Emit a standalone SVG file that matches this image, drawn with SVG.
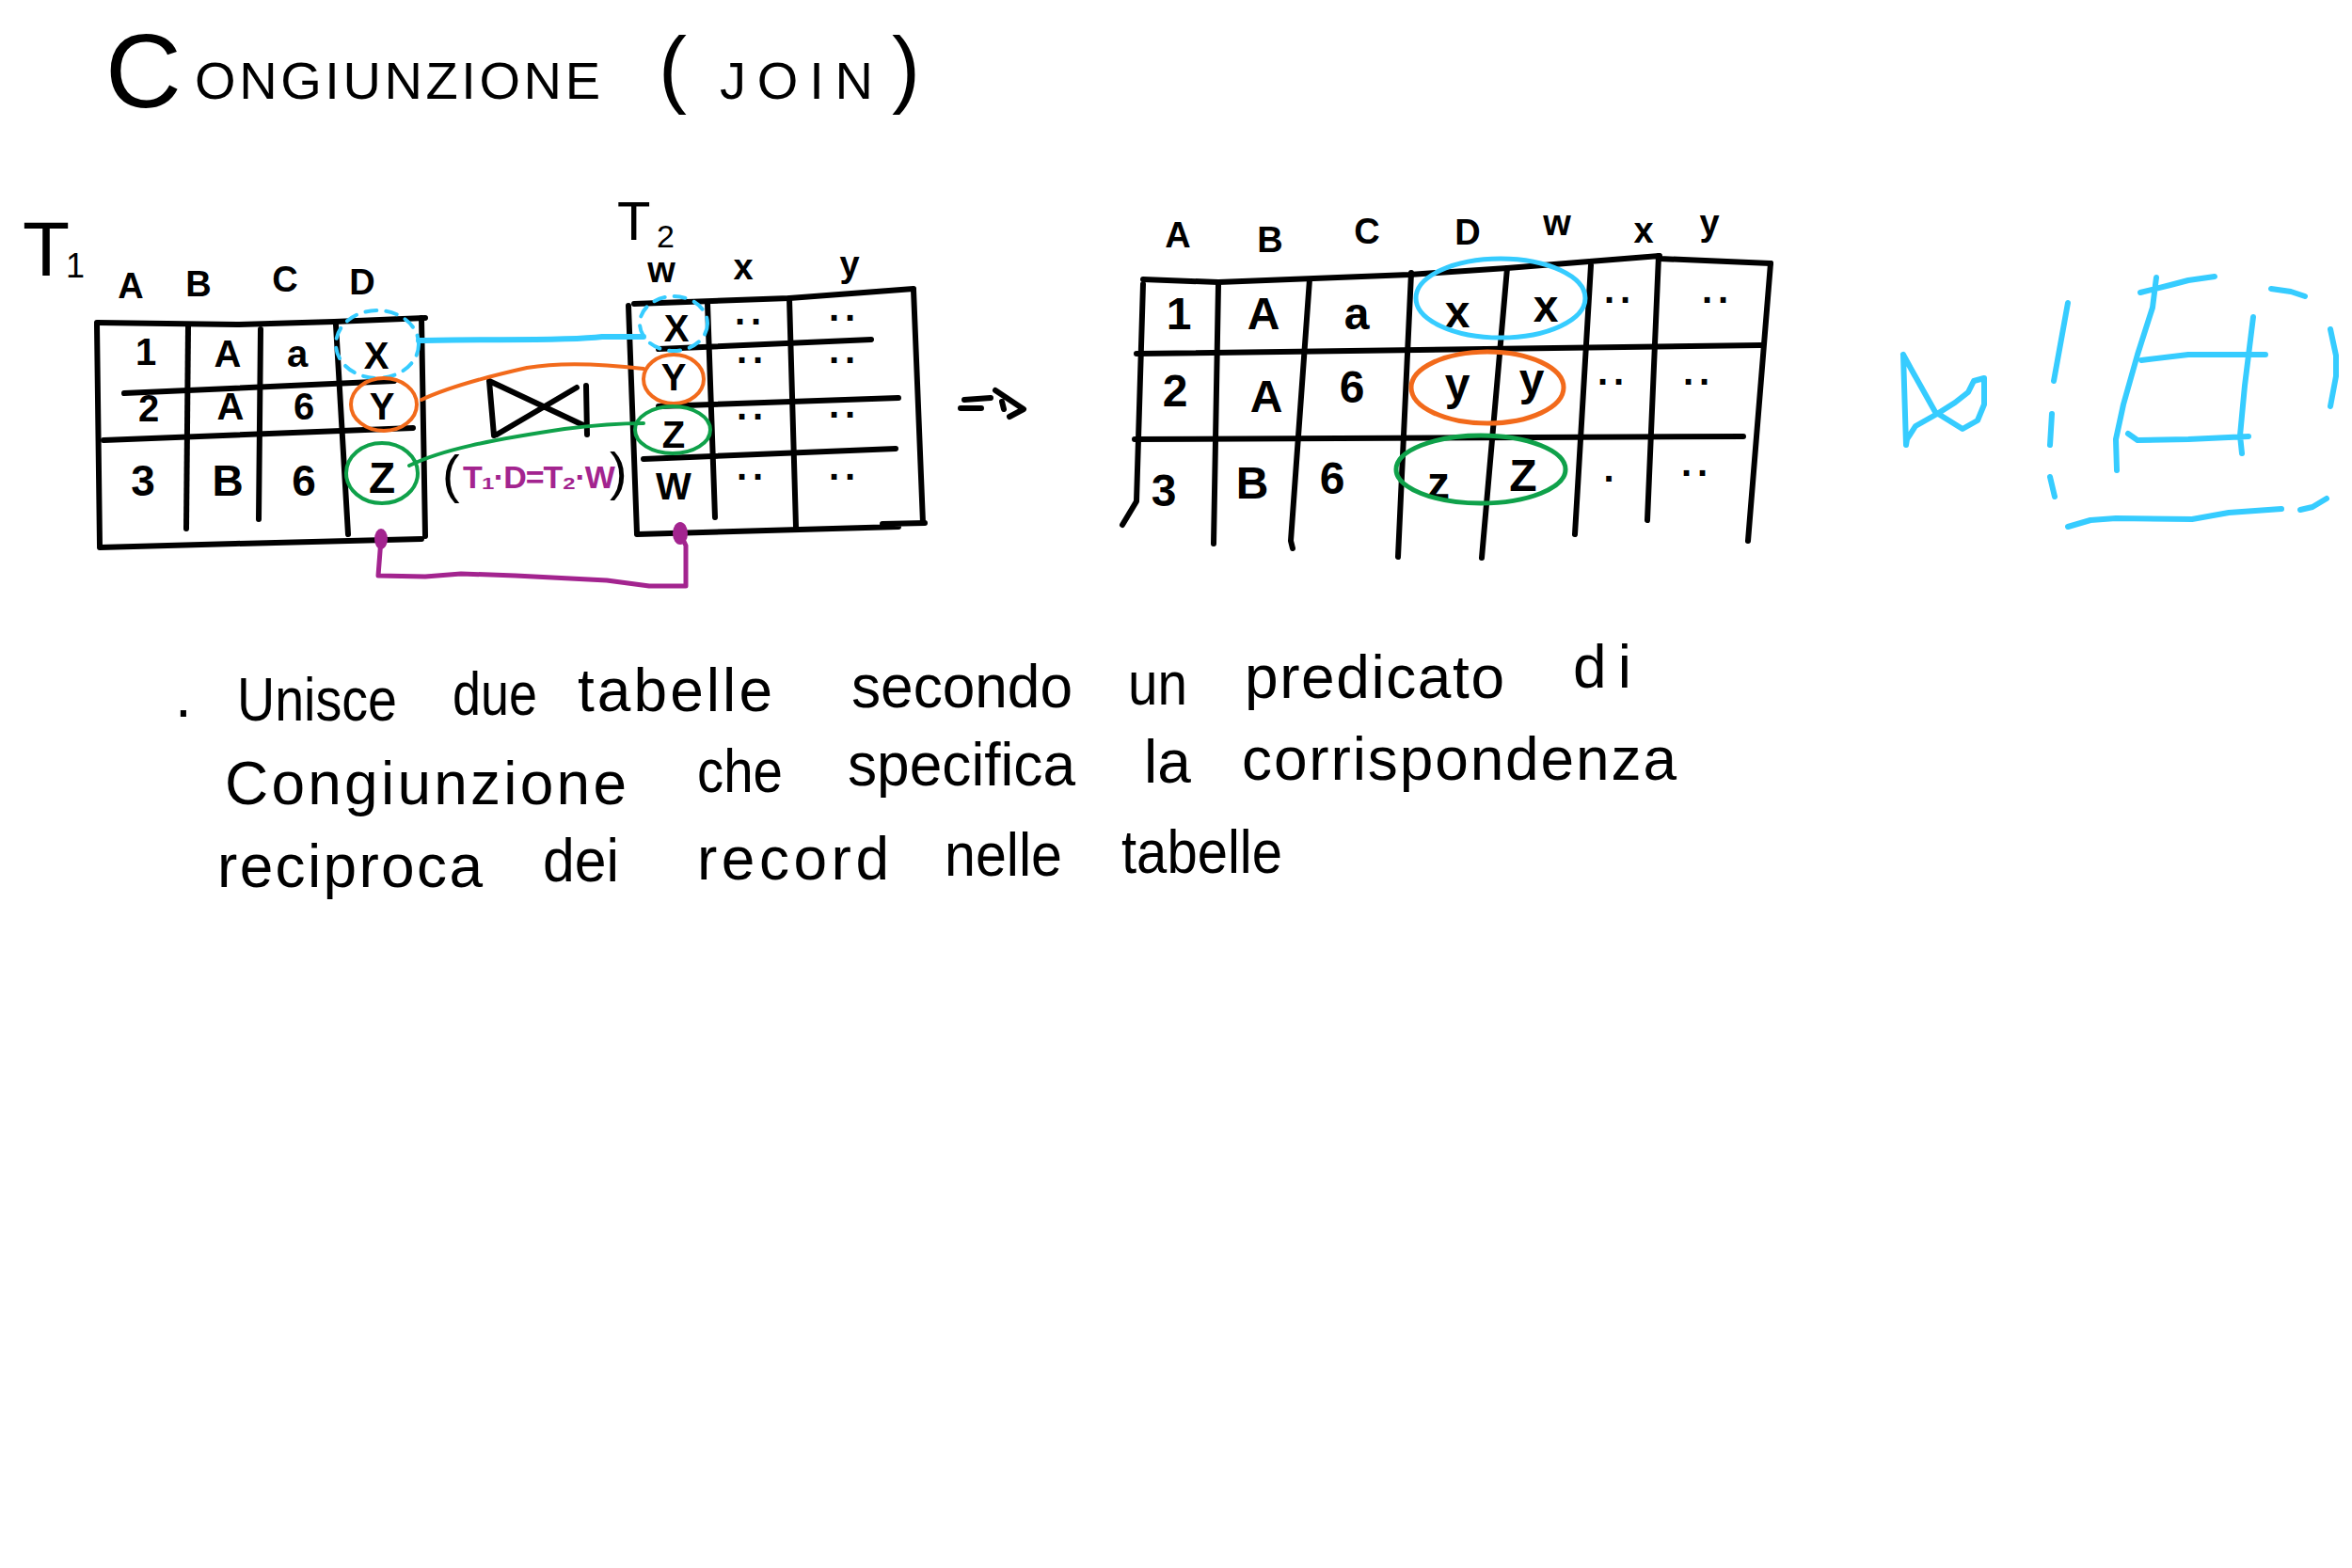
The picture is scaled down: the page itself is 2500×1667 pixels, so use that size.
<svg xmlns="http://www.w3.org/2000/svg" width="2500" height="1667" viewBox="0 0 2500 1667">
<style>
.ink{fill:none;stroke:#000;stroke-width:6;stroke-linecap:round;stroke-linejoin:round}
.cy{fill:none;stroke:#36ccff;stroke-width:6;stroke-linecap:round;stroke-linejoin:round}
.cyd{fill:none;stroke:#36ccff;stroke-width:4;stroke-dasharray:12 10;stroke-linecap:round}
.or{fill:none;stroke:#f26a1b;stroke-width:4;stroke-linecap:round;stroke-linejoin:round}
.gr{fill:none;stroke:#0fa14a;stroke-width:4;stroke-linecap:round;stroke-linejoin:round}
.pu{fill:none;stroke:#a3248f;stroke-width:5;stroke-linecap:round;stroke-linejoin:round}
text{font-family:"Liberation Sans",Arial,sans-serif;fill:#000}
.c{font-weight:bold;text-anchor:middle}
.t1{font-size:40px}
.t1b{font-size:46px}
.r{font-size:48px}
.h{font-size:38px;font-weight:bold;text-anchor:middle}
.b{font-size:64px}
.dots{font-size:40px;font-weight:bold;text-anchor:middle;letter-spacing:6px}
</style>
<rect width="2500" height="1667" fill="#fff"/>

<g id="title">
<text x="112" y="114" font-size="112">C</text>
<text x="207" y="105" font-size="56" textLength="431" lengthAdjust="spacing">ONGIUNZIONE</text>
<text x="700" y="103" font-size="90">(</text>
<text x="765" y="105" font-size="56" textLength="163" lengthAdjust="spacing">JOIN</text>
<text x="948" y="103" font-size="90">)</text>
</g>

<g id="T1">
<text x="24" y="293" font-size="82">T</text>
<text x="70" y="295" font-size="36">1</text>
<text class="h" x="139" y="317">A</text>
<text class="h" x="211" y="315">B</text>
<text class="h" x="303" y="310">C</text>
<text class="h" x="385" y="313">D</text>
<path class="ink" d="M103,343 L252,345 L355,342 L452,338"/>
<path class="ink" d="M103,345 L106,580"/>
<path class="ink" d="M200,347 L198,562"/>
<path class="ink" d="M277,350 L275,552"/>
<path class="ink" d="M357,345 L370,568"/>
<path class="ink" d="M448,338 L452,570"/>
<path class="ink" d="M132,418 L419,405"/>
<path class="ink" d="M110,468 L439,455"/>
<path class="ink" d="M106,582 L250,578 L448,573"/>
<text class="c t1" x="155" y="388">1</text>
<text class="c t1" x="242" y="390">A</text>
<text class="c t1" x="316" y="390">a</text>
<text class="c t1" x="400" y="392">X</text>
<text class="c t1" x="158" y="448">2</text>
<text class="c t1" x="245" y="446">A</text>
<text class="c t1" x="323" y="446">6</text>
<text class="c t1" x="406" y="446">Y</text>
<text class="c t1b" x="152" y="527">3</text>
<text class="c t1b" x="242" y="527">B</text>
<text class="c t1b" x="323" y="527">6</text>
<text class="c t1b" x="406" y="524">Z</text>
</g>

<g id="T2">
<text x="656" y="255" font-size="58">T</text>
<text x="698" y="263" font-size="34">2</text>
<text class="h" x="703" y="300">w</text>
<text class="h" x="790" y="297">x</text>
<text class="h" x="903" y="294">y</text>
<path class="ink" d="M674,323 L839,317 L971,307"/>
<path class="ink" d="M668,325 L677,567"/>
<path class="ink" d="M752,322 L760,550"/>
<path class="ink" d="M839,317 L846,560"/>
<path class="ink" d="M971,308 L981,556"/>
<path class="ink" d="M700,371 L926,361"/>
<path class="ink" d="M700,432 L955,423"/>
<path class="ink" d="M684,488 L952,477"/>
<path class="ink" d="M677,568 L955,560 M938,557 L983,556"/>
<text class="c t1" x="719" y="363">X</text>
<text class="c t1" x="716" y="415">Y</text>
<text class="c t1" x="716" y="476">Z</text>
<text class="c t1" x="716" y="531">W</text>
<text class="dots" x="798" y="345">..</text>
<text class="dots" x="898" y="341">..</text>
<text class="dots" x="800" y="386">..</text>
<text class="dots" x="898" y="386">..</text>
<text class="dots" x="800" y="446">..</text>
<text class="dots" x="898" y="444">..</text>
<text class="dots" x="800" y="510">..</text>
<text class="dots" x="898" y="510">..</text>
</g>

<g id="join-symbol">
<path class="ink" d="M520,405 L525,463 M623,410 L624,462 M520,405 L620,452 M613,412 L528,462"/>
</g>

<g id="predicate">
<text x="470" y="523" font-size="56">(</text>
<text x="492" y="519" font-size="34" font-weight="bold" letter-spacing="-1" style="fill:#a3248f">T₁·D=T₂·W</text>
<text x="648" y="520" font-size="56">)</text>
</g>

<g id="arrow">
<path class="ink" d="M1025,425 L1053,423 M1021,434 L1043,434 M1058,415 L1088,435 L1073,443 M1065,427 L1067,435"/>
</g>

<g id="result">
<text class="h" x="1252" y="263">A</text>
<text class="h" x="1350" y="268">B</text>
<text class="h" x="1453" y="259">C</text>
<text class="h" x="1560" y="260">D</text>
<text class="h" x="1655" y="250">w</text>
<text class="h" x="1747" y="258">x</text>
<text class="h" x="1817" y="250">y</text>
<path class="ink" d="M1215,297 L1295,300 L1498,292 L1602,285 L1764,272 M1764,275 L1882,280"/>
<path class="ink" d="M1215,302 L1208,533 L1193,558"/>
<path class="ink" d="M1295,303 L1290,578"/>
<path class="ink" d="M1392,297 L1372,575 L1374,583"/>
<path class="ink" d="M1500,290 L1486,592"/>
<path class="ink" d="M1602,285 L1575,593"/>
<path class="ink" d="M1691,282 L1674,568"/>
<path class="ink" d="M1763,272 L1751,553"/>
<path class="ink" d="M1882,280 L1858,575"/>
<path class="ink" d="M1208,376 L1872,367"/>
<path class="ink" d="M1206,467 L1853,464"/>
<text class="c r" x="1253" y="350">1</text>
<text class="c r" x="1343" y="350">A</text>
<text class="c r" x="1442" y="350">a</text>
<text class="c r" x="1549" y="348">x</text>
<text class="c r" x="1643" y="342">x</text>
<text class="dots" x="1722" y="322">..</text>
<text class="dots" x="1826" y="322">..</text>
<text class="c r" x="1249" y="432">2</text>
<text class="c r" x="1346" y="438">A</text>
<text class="c r" x="1437" y="428">6</text>
<text class="c r" x="1549" y="425">y</text>
<text class="c r" x="1628" y="420">y</text>
<text class="dots" x="1715" y="409">..</text>
<text class="dots" x="1806" y="409">..</text>
<text class="c r" x="1237" y="538">3</text>
<text class="c r" x="1331" y="530">B</text>
<text class="c r" x="1416" y="525">6</text>
<text class="c r" x="1529" y="530" font-size="54">z</text>
<text class="c r" x="1619" y="522">Z</text>
<text class="dots" x="1713" y="512">.</text>
<text class="dots" x="1804" y="506">..</text>
</g>

<g id="legend">
<path class="cy" d="M2023,377 L2026,473 M2023,377 L2034,397 L2057,438 L2086,456 L2102,447 L2109,430 L2109,402 L2098,405 L2092,417 L2078,428 L2059,440 L2036,453 L2027,467 L2026,473"/>
<path class="cy" d="M2198,322 L2183,405 M2181,440 L2179,473 M2179,507 L2184,528 M2198,560 L2222,553 L2249,551 L2330,552 L2369,545 L2425,541 M2445,542 L2458,539 L2473,530 M2477,350 L2483,378 L2483,400 L2477,432 M2414,307 L2435,310 L2450,315"/>
<path class="cy" d="M2275,311 L2307,303 L2326,298 L2354,294 M2292,295 L2288,327 L2272,377 L2257,430 L2249,467 L2250,500 M2276,383 L2326,377 L2408,377 M2395,337 L2386,410 L2381,463 L2383,482 M2262,461 L2272,468 L2326,467 L2390,464"/>
</g>

<g id="connectors">
<ellipse class="cyd" cx="401" cy="366" rx="44" ry="36"/>
<ellipse class="cyd" cx="716" cy="344" rx="36" ry="29"/>
<ellipse class="or" cx="408" cy="430" rx="35" ry="28"/>
<ellipse class="or" cx="716" cy="403" rx="32" ry="26"/>
<ellipse class="gr" cx="406" cy="503" rx="38" ry="32"/>
<ellipse class="gr" cx="715" cy="457" rx="40" ry="25"/>
<path class="cy" d="M445,362 C520,360 600,363 640,358 L684,358"/>
<path class="or" d="M448,425 C480,410 520,400 560,391 C600,384 650,388 684,392"/>
<path class="gr" d="M435,495 C470,478 520,468 600,456 C640,451 665,450 684,450"/>
<path class="pu" d="M405,573 L402,612 L452,613 L490,610 L548,612 L645,617 L690,623 L729,623 L729,580 L723,567"/>
<ellipse cx="405" cy="573" rx="7" ry="11" fill="#a3248f"/>
<ellipse cx="723" cy="567" rx="8" ry="12" fill="#a3248f"/>
<ellipse style="fill:none;stroke:#36ccff;stroke-width:5" cx="1595" cy="317" rx="90" ry="42"/>
<ellipse class="or" style="stroke-width:5" cx="1581" cy="412" rx="81" ry="38"/>
<ellipse class="gr" style="stroke-width:5" cx="1574" cy="499" rx="90" ry="36"/>
</g>

<g id="description">
<text class="b" x="186" y="762">.</text>
<text class="b" x="252" y="766" textLength="170" lengthAdjust="spacingAndGlyphs">Unisce</text>
<text class="b" x="481" y="760" textLength="90" lengthAdjust="spacingAndGlyphs">due</text>
<text class="b" x="614" y="756" textLength="207" lengthAdjust="spacing">tabelle</text>
<text class="b" x="905" y="752" textLength="235" lengthAdjust="spacingAndGlyphs">secondo</text>
<text class="b" x="1199" y="749" textLength="63" lengthAdjust="spacingAndGlyphs">un</text>
<text class="b" x="1323" y="742" textLength="276" lengthAdjust="spacing">predicato</text>
<text class="b" x="1672" y="731" textLength="62" lengthAdjust="spacing">di</text>
<text class="b" x="239" y="855" textLength="427" lengthAdjust="spacing">Congiunzione</text>
<text class="b" x="741" y="842" textLength="91" lengthAdjust="spacingAndGlyphs">che</text>
<text class="b" x="901" y="835" textLength="242" lengthAdjust="spacingAndGlyphs">specifica</text>
<text class="b" x="1216" y="832">la</text>
<text class="b" x="1320" y="829" textLength="462" lengthAdjust="spacing">corrispondenza</text>
<text class="b" x="231" y="943" textLength="282" lengthAdjust="spacing">reciproca</text>
<text class="b" x="577" y="937" textLength="81" lengthAdjust="spacingAndGlyphs">dei</text>
<text class="b" x="741" y="935" textLength="204" lengthAdjust="spacing">record</text>
<text class="b" x="1004" y="931" textLength="125" lengthAdjust="spacingAndGlyphs">nelle</text>
<text class="b" x="1192" y="928" textLength="171" lengthAdjust="spacingAndGlyphs">tabelle</text>
</g>
</svg>
